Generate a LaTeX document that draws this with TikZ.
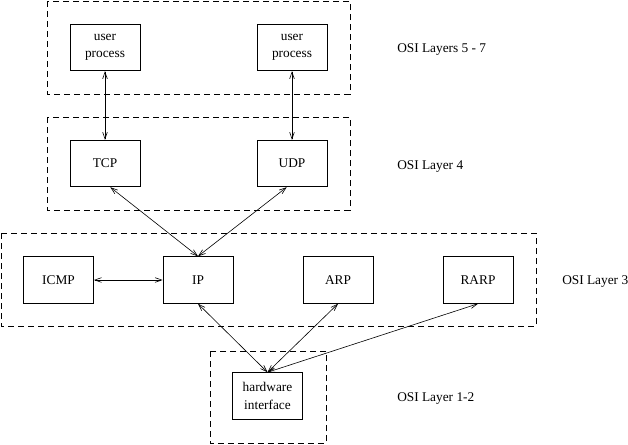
\documentclass[tikz,border=0pt]{standalone}
\usepackage{fontspec}
\setmainfont{Liberation Serif}
\usetikzlibrary{arrows.meta}
\begin{document}
\begin{tikzpicture}[x=0.75pt,y=-0.75pt,
  font=\fontsize{10}{13}\selectfont,
  box/.style={draw,line width=0.6pt,minimum width=52.5pt,minimum height=35pt,inner sep=0pt,align=center},
  layerbox/.style={draw,line width=0.6pt,dash pattern=on 4.5pt off 3pt},
  lbl/.style={anchor=west,inner sep=0pt},
  conn/.style={line width=0.45pt,{Straight Barb[length=5pt,width=3.5pt]}-{Straight Barb[length=5pt,width=3.5pt]}}]
\useasboundingbox (0,0) rectangle (628,444);
% layer frames
\draw[layerbox] (47,1) rectangle (350,94);
\draw[layerbox] (47,117) rectangle (350,210);
\draw[layerbox] (1,233) rectangle (536,326);
\draw[layerbox] (210,351) rectangle (326,443);
% boxes
\node[box] (up1) at (105,47.5) {user\\process};
\node[box] (up2) at (292,47.5) {user\\process};
\node[box] (tcp) at (105,163.5) {TCP};
\node[box] (udp) at (292,163.5) {UDP};
\node[box] (icmp) at (58.5,280) {ICMP};
\node[box] (ip) at (198,280) {IP};
\node[box] (arp) at (338,280) {ARP};
\node[box] (rarp) at (478,280) {RARP};
\node[box] (hw) at (267.5,396) {hardware\\interface};
% labels
\node[lbl] (l57) at (397,50) {OSI Layers 5 - 7};
\node[lbl] (l4) at (397,167) {OSI Layer 4};
\node[lbl] (l3) at (562,282) {OSI Layer 3};
\node[lbl] (l12) at (397,399) {OSI Layer 1-2};
% connectors
\draw[conn] (up1.south) -- (tcp.north);
\draw[conn] (up2.south) -- (udp.north);
\draw[conn] ([xshift=4pt]tcp.south) -- (ip.north);
\draw[conn] ([xshift=-4pt]udp.south) -- (ip.north);
\draw[conn] (icmp.east) -- (ip.east -| ip.west);
\draw[conn] (ip.south) -- (hw.north);
\draw[conn] (arp.south) -- (hw.north);
\draw[conn] (rarp.south) -- (hw.north);
\end{tikzpicture}
\end{document}
